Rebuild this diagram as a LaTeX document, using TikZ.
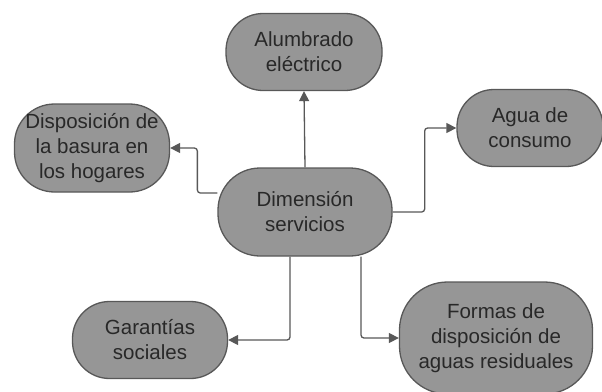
\documentclass[tikz,border=0pt]{standalone}
\usepackage{fontspec}
\setmainfont{Liberation Sans}
\usetikzlibrary{arrows.meta,positioning,backgrounds}
\definecolor{boxgray}{RGB}{150,150,150}
\definecolor{edgegray}{RGB}{88,88,88}
\definecolor{textgray}{RGB}{40,40,40}

\tikzset{
  servbox/.style={rectangle,rounded corners=37pt,draw=edgegray,line width=1.3pt,fill=boxgray,
    text=textgray,align=center,inner sep=0pt,font=\fontsize{20.5}{25}\selectfont},
  link/.style={draw=edgegray,line width=1.3pt,rounded corners=3pt,-{Triangle[length=10pt,width=10pt]}}
}

\begin{document}
\begin{tikzpicture}[x=1pt,y=-1pt]
  \useasboundingbox (0,0) rectangle (602,391);
  \node[servbox,minimum width=174pt,minimum height=88pt,rounded corners=42pt] (dim) at (305,212) {Dimensión\\servicios};
  \node[servbox,minimum width=156pt,minimum height=77pt] (alum) at (304,52) {Alumbrado\\eléctrico};
  \node[servbox,minimum width=155pt,minimum height=88pt,rounded corners=40pt] (disp) at (92,148) {Disposición de\\la basura en\\los hogares};
  \node[servbox,minimum width=146pt,minimum height=77pt] (agua) at (530,128) {Agua de\\consumo};
  \node[servbox,minimum width=155pt,minimum height=77pt] (gar) at (150,340) {Garantías\\sociales};
  \node[servbox,minimum width=193pt,minimum height=112pt,rounded corners=48pt] (form) at (496,338) {Formas de\\disposición de\\aguas residuales};
  \begin{scope}[on background layer]
    \draw[link] (dim.north) -- (alum.south);
    \draw[link] ([yshift=19pt]dim.west) -- ++(-20,0) |- (disp.east);
    \draw[link] (dim.east) -- ++(32,0) |- (agua.west);
    \draw[link] ([xshift=-15pt]dim.south) |- (gar.east);
    \draw[link] ([xshift=56pt]dim.south) |- (form.west);
  \end{scope}
\end{tikzpicture}
\end{document}
